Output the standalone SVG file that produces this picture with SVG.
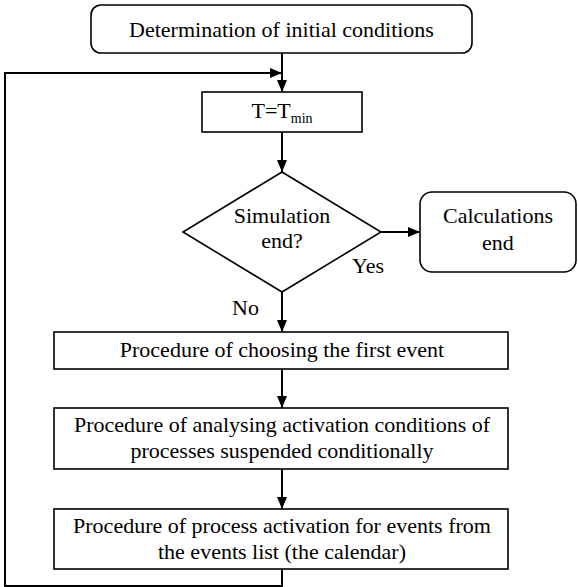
<svg xmlns="http://www.w3.org/2000/svg" width="578" height="587" viewBox="0 0 578 587">
  <defs>
    <marker id="arrow" markerUnits="userSpaceOnUse" markerWidth="12" markerHeight="12" viewBox="0 0 12 12" refX="12" refY="6" orient="auto">
      <path d="M0,1 L12,6 L0,11 Z" fill="#000"/>
    </marker>
  </defs>
  <style>
    .box { fill: #fff; stroke: #000; stroke-width: 1.6; }
    .conn { fill: none; stroke: #000; stroke-width: 2; }
    text { font-family: "Liberation Serif", "Times New Roman", serif; font-size: 22px; fill: #000; }
    .c { text-anchor: middle; }
  </style>
  <rect width="578" height="587" fill="#fff"/>

  <!-- connectors -->
  <g id="connectors">
    <path class="conn" d="M282,53 V92" marker-end="url(#arrow)"/>
    <path class="conn" d="M282,569 V586 H5 V73 H282" marker-end="url(#arrow)"/>
    <path class="conn" d="M282,132 V172" marker-end="url(#arrow)"/>
    <path class="conn" d="M381,232 H420" marker-end="url(#arrow)"/>
    <path class="conn" d="M282,292 V332" marker-end="url(#arrow)"/>
    <path class="conn" d="M282,369 V408" marker-end="url(#arrow)"/>
    <path class="conn" d="M282,469 V509" marker-end="url(#arrow)"/>
  </g>

  <!-- start -->
  <g id="init">
    <rect class="box" x="91" y="5" width="381" height="48" rx="10"/>
    <text class="c" x="281.5" y="37">Determination of initial conditions</text>
  </g>

  <!-- time step -->
  <g id="set-time">
    <rect class="box" x="202" y="92" width="160" height="40"/>
    <text class="c" x="282" y="118">T=T<tspan font-size="14" dy="5">min</tspan></text>
  </g>

  <!-- decision -->
  <g id="sim-end">
    <polygon class="box" points="282,172 381,232 282,292 183,232"/>
    <text class="c" x="282" y="223">Simulation</text>
    <text class="c" x="282" y="248">end?</text>
  </g>

  <!-- terminal -->
  <g id="calc-end">
    <rect class="box" x="420" y="192" width="156" height="80" rx="12"/>
    <text class="c" x="498" y="223">Calculations</text>
    <text class="c" x="498" y="250">end</text>
  </g>

  <!-- branch labels -->
  <g id="labels">
    <text x="352" y="273">Yes</text>
    <text x="232" y="315">No</text>
  </g>

  <g id="choose-event">
    <rect class="box" x="54" y="332" width="454" height="37"/>
    <text class="c" x="282" y="357">Procedure of choosing the first event</text>
  </g>

  <g id="analyse-conditions">
    <rect class="box" x="54" y="408" width="454" height="61"/>
    <text class="c" x="282" y="432">Procedure of analysing activation conditions of</text>
    <text class="c" x="282" y="458">processes suspended conditionally</text>
  </g>

  <g id="activate-processes">
    <rect class="box" x="54" y="509" width="454" height="60"/>
    <text class="c" x="282" y="533">Procedure of process activation for events from</text>
    <text class="c" x="282" y="559">the events list (the calendar)</text>
  </g>
</svg>
